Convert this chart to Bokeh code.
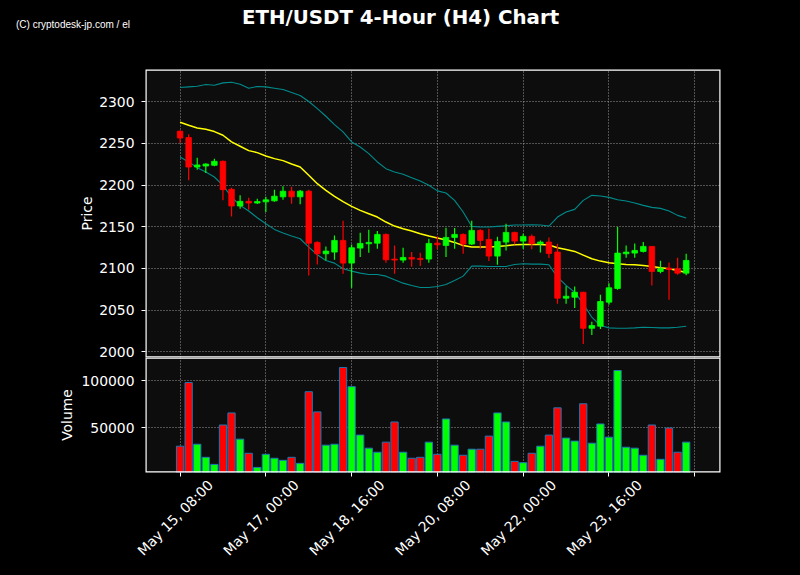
import math
from bokeh.plotting import figure
from bokeh.layouts import column
from bokeh.models import (Range1d, LinearAxis, FixedTicker, Label, BoxAnnotation,
                          NumeralTickFormatter, ColumnDataSource)
from bokeh.embed import file_html
from bokeh.resources import INLINE

# ---------------- data ----------------
idx = list(range(60))
opens = [2264.4, 2256.8, 2221.5, 2222.7, 2223.6, 2228.4, 2194.8, 2174.8, 2180.4, 2178.4,
         2179.8, 2181.0, 2185.8, 2192.6, 2185.8, 2192.6, 2131.2, 2117.6, 2119.6, 2133.6,
         2106.4, 2124.4, 2129.6, 2130.3, 2140.8, 2111.2, 2110.0, 2113.2, 2112.0, 2111.2,
         2130.3, 2127.6, 2137.2, 2140.8, 2129.2, 2145.6, 2134.8, 2114.8, 2131.6, 2143.2,
         2132.8, 2138.4, 2129.6, 2131.6, 2119.6, 2064.4, 2065.5, 2071.5, 2028.3, 2030.8,
         2059.6, 2076.0, 2117.6, 2118.4, 2120.4, 2126.4, 2096.4, 2100.4, 2099.6, 2094.4]
highs = [2265.5, 2260.8, 2232.8, 2226.0, 2231.6, 2229.5, 2196.6, 2187.6, 2184.8, 2183.6,
         2185.8, 2194.4, 2198.6, 2198.0, 2194.0, 2194.4, 2132.5, 2126.4, 2139.6, 2157.2,
         2128.8, 2142.8, 2146.4, 2144.8, 2142.0, 2127.6, 2124.8, 2119.6, 2118.8, 2135.6,
         2138.7, 2148.8, 2148.4, 2142.0, 2157.2, 2147.0, 2147.6, 2138.0, 2153.6, 2144.0,
         2141.6, 2140.8, 2133.6, 2137.2, 2129.6, 2078.7, 2078.3, 2072.0, 2036.0, 2068.4,
         2082.4, 2149.6, 2127.6, 2130.0, 2131.6, 2127.0, 2109.2, 2107.2, 2112.8, 2117.6]
lows = [2250.4, 2205.6, 2218.4, 2214.3, 2222.5, 2181.6, 2162.4, 2171.6, 2170.4, 2177.2,
        2167.5, 2180.0, 2182.2, 2177.6, 2177.0, 2091.6, 2104.8, 2109.6, 2110.4, 2093.6,
        2076.8, 2113.6, 2118.8, 2123.6, 2106.8, 2093.6, 2106.8, 2102.0, 2103.0, 2106.8,
        2123.0, 2113.6, 2123.6, 2117.6, 2128.0, 2123.6, 2108.8, 2104.4, 2121.6, 2128.8,
        2123.6, 2123.0, 2119.0, 2112.4, 2057.6, 2057.6, 2052.7, 2009.6, 2020.4, 2027.6,
        2056.4, 2074.4, 2112.8, 2112.8, 2119.0, 2079.6, 2094.4, 2062.4, 2092.4, 2092.0]
closes = [2256.3, 2221.5, 2224.0, 2225.1, 2228.4, 2194.4, 2174.8, 2180.4, 2178.4, 2180.1,
          2182.2, 2186.6, 2192.6, 2185.8, 2192.6, 2130.3, 2117.6, 2120.8, 2133.6, 2106.4,
          2124.8, 2130.0, 2131.2, 2140.8, 2110.4, 2110.0, 2113.2, 2111.2, 2110.8, 2130.0,
          2128.4, 2137.2, 2140.8, 2129.2, 2145.6, 2133.6, 2114.8, 2132.4, 2143.2, 2132.8,
          2138.4, 2129.6, 2131.6, 2118.0, 2064.4, 2066.7, 2071.5, 2028.3, 2031.6, 2060.4,
          2076.8, 2118.4, 2119.6, 2121.6, 2126.4, 2096.4, 2099.6, 2098.8, 2094.4, 2109.6]
volumes = [30400, 97900, 32500, 18600, 11100, 52900, 65700, 37900, 22900, 7900,
           21800, 17600, 15400, 18600, 12200, 88200, 66800, 31500, 32500, 113900,
           93600, 42200, 28300, 24000, 34700, 56100, 24000, 17600, 18600, 34700,
           21800, 59300, 31500, 20800, 27200, 27200, 41100, 65700, 56100, 14300,
           12900, 22900, 30400, 42200, 71100, 39000, 35800, 75400, 33600, 54000,
           40000, 110700, 29300, 28300, 20800, 52900, 16500, 49700, 24000, 34700]
sma = [2275.2, 2271.6, 2268.4, 2266.8, 2264.0, 2259.6, 2251.6, 2246.4, 2241.2, 2238.8,
       2234.8, 2231.6, 2229.2, 2225.2, 2221.6, 2211.6, 2201.6, 2193.6, 2186.4, 2180.0,
       2174.4, 2169.6, 2165.6, 2161.6, 2155.6, 2150.8, 2147.6, 2144.8, 2141.6, 2138.8,
       2136.4, 2134.0, 2131.2, 2127.6, 2125.6, 2125.6, 2125.6, 2126.4, 2127.2, 2128.4,
       2128.8, 2128.8, 2128.8, 2128.0, 2124.8, 2122.8, 2120.4, 2116.0, 2111.6, 2108.8,
       2106.8, 2105.6, 2104.8, 2104.4, 2103.6, 2102.4, 2100.8, 2099.6, 2097.6, 2095.2]
bb_upper = [2316.8, 2317.6, 2318.4, 2320.4, 2319.6, 2322.4, 2323.2, 2320.8, 2316.0, 2318.0,
            2317.6, 2316.0, 2314.4, 2310.8, 2307.2, 2300.0, 2291.6, 2282.4, 2272.4, 2263.6,
            2251.6, 2245.6, 2237.6, 2227.6, 2219.6, 2215.6, 2212.8, 2208.8, 2204.8, 2199.6,
            2193.0, 2190.4, 2181.6, 2167.6, 2150.4, 2149.6, 2149.6, 2150.4, 2151.2, 2152.0,
            2152.0, 2152.4, 2152.0, 2150.8, 2161.6, 2167.6, 2170.8, 2181.6, 2187.6, 2186.8,
            2185.2, 2182.4, 2180.8, 2178.4, 2175.6, 2173.2, 2172.0, 2168.8, 2163.6, 2160.4]
bb_lower = [2233.6, 2227.6, 2220.8, 2215.6, 2209.6, 2199.6, 2185.6, 2175.6, 2168.8, 2160.8,
            2153.6, 2146.8, 2142.4, 2138.8, 2135.6, 2125.6, 2116.4, 2109.6, 2106.4, 2099.6,
            2096.8, 2094.4, 2092.8, 2092.8, 2090.8, 2086.4, 2082.4, 2079.6, 2077.2, 2077.2,
            2078.4, 2080.8, 2085.6, 2090.8, 2102.8, 2102.8, 2102.4, 2102.4, 2102.4, 2104.8,
            2105.6, 2105.2, 2105.2, 2104.4, 2089.6, 2079.6, 2071.6, 2057.6, 2041.6, 2031.6,
            2028.8, 2028.4, 2028.4, 2028.8, 2029.6, 2029.2, 2028.8, 2028.8, 2029.6, 2030.8]

x_tick_pos = [0, 10, 20, 30, 40, 50, 60]
x_tick_labels = ["May 15, 08:00", "May 17, 00:00", "May 18, 16:00",
                 "May 20, 08:00", "May 22, 00:00", "May 23, 16:00"]
price_ticks = [2000, 2050, 2100, 2150, 2200, 2250, 2300]
vol_ticks = [50000, 100000]
title_text = "ETH/USDT 4-Hour (H4) Chart"
credit_text = "(C) cryptodesk-jp.com / el"

# ---------------- styling ----------------
UP, DOWN = "#00ff00", "#ff0000"
PLOT_BG = "#0d0d0d"
GRID_COLOR = "#b0b0b0"
FONT = "DejaVu Sans"
TICK_FS = "13.9px"
X0, X1 = -4.03, 63.0
LBL_SHIFT = 3.55
W_TOTAL = 800
LEFT, RIGHT = 145, 80
FRAME_W = W_TOTAL - LEFT - RIGHT

colors = [UP if c >= o else DOWN for o, c in zip(opens, closes)]
src = ColumnDataSource(dict(
    x=idx, open=opens, high=highs, low=lows, close=closes,
    top=[max(o, c) for o, c in zip(opens, closes)],
    bot=[min(o, c) for o, c in zip(opens, closes)],
    vol=volumes, color=colors, sma=sma, up=bb_upper, lo=bb_lower))


def style_common(fig, label_standoff):
    fig.background_fill_color = PLOT_BG
    fig.border_fill_color = None
    fig.outline_line_color = None
    for ax in fig.yaxis:
        ax.axis_line_color = None
        ax.major_tick_line_color = "white"
        ax.major_tick_out = 4
        ax.major_tick_in = 0
        ax.minor_tick_line_color = None
        ax.major_label_text_color = "white"
        ax.major_label_text_font = FONT
        ax.major_label_text_font_size = TICK_FS
        ax.major_label_standoff = 7
        ax.axis_label_text_color = "white"
        ax.axis_label_text_font = FONT
        ax.axis_label_text_font_size = "13.9px"
        ax.axis_label_text_font_style = "normal"
        ax.axis_label_standoff = label_standoff
    fig.xgrid.ticker = FixedTicker(ticks=x_tick_pos)
    for g in list(fig.xgrid) + list(fig.ygrid):
        g.grid_line_color = GRID_COLOR
        g.grid_line_dash = "1 2"
        g.grid_line_alpha = 0.85
        g.grid_line_width = 1
    fig.add_layout(BoxAnnotation(fill_color=None, line_color="white", line_width=2.4,
                                 line_alpha=1.0))


# ---------------- header (title + credit) ----------------
h = figure(width=W_TOTAL, height=69, min_border=0, x_range=Range1d(0, W_TOTAL),
           y_range=Range1d(0, 69), x_axis_location=None, y_axis_location=None,
           output_backend="svg", toolbar_location=None)
h.frame_align = False
h.background_fill_color = "black"
h.border_fill_color = "black"
h.outline_line_color = None
h.grid.visible = False
h.add_layout(Label(x=W_TOTAL / 2, y=52.3, text=title_text, text_align="center",
                   text_baseline="alphabetic", text_font=FONT, text_font_style="bold",
                   text_font_size="19.8px", text_color="white"))
h.add_layout(Label(x=15.5, y=45.5, text=credit_text, text_align="left",
                   text_baseline="alphabetic", text_font="Liberation Sans",
                   text_font_size="10px", text_color="white"))

# ---------------- price panel ----------------
p = figure(frame_width=FRAME_W, frame_height=288, min_border_left=LEFT, min_border_right=RIGHT,
           min_border_top=0, min_border_bottom=8,
           x_range=Range1d(X0, X1), y_range=Range1d(1993.3, 2338.4),
           x_axis_location=None, output_backend="svg", toolbar_location=None)
p.yaxis.ticker = FixedTicker(ticks=price_ticks)
p.yaxis.axis_label = "Price"
style_common(p, 1)
p.border_fill_color = "black"

p.line("x", "up", source=src, line_color="#008b8b", line_width=1.1)
p.line("x", "lo", source=src, line_color="#008b8b", line_width=1.1)
p.line("x", "sma", source=src, line_color="#ffff00", line_width=1.5)
p.segment(x0="x", y0="low", x1="x", y1="high", source=src, line_color="color", line_width=1.2)
p.vbar(x="x", top="top", bottom="bot", width=0.65, source=src,
       fill_color="color", line_color="color", line_width=0.8)

# ---------------- volume panel ----------------
v = figure(frame_width=FRAME_W, frame_height=115, min_border_left=LEFT, min_border_right=RIGHT,
           min_border_top=0, min_border_bottom=103,
           x_range=Range1d(X0, X1), y_range=Range1d(2500, 124500),
           x_axis_location=None, output_backend="svg", toolbar_location=None)
v.yaxis.ticker = FixedTicker(ticks=vol_ticks)
v.yaxis.formatter = NumeralTickFormatter(format="0")
v.yaxis.axis_label = "Volume"
style_common(v, 3)
v.styles = {"margin-top": "-8px"}

v.vbar(x="x", top="vol", bottom=0, width=0.85, source=src,
       fill_color="color", line_color="#1f77b4", line_width=1)

tick_axis = LinearAxis(ticker=FixedTicker(ticks=x_tick_pos),
                       major_label_overrides={t: "" for t in x_tick_pos},
                       major_label_standoff=0, major_label_text_font_size="1px",
                       major_tick_out=4, major_tick_in=0, major_tick_line_color="white",
                       minor_tick_line_color=None, axis_line_color=None)
v.add_layout(tick_axis, "below")

v.extra_x_ranges = {"lbl": Range1d(X0 - LBL_SHIFT, X1 - LBL_SHIFT)}
lbl_axis = LinearAxis(x_range_name="lbl", ticker=FixedTicker(ticks=x_tick_pos[:6]),
                      major_label_overrides={t: s for t, s in zip(x_tick_pos, x_tick_labels)},
                      major_label_orientation=math.pi / 4, major_label_standoff=0,
                      major_label_text_color="white", major_label_text_font=FONT,
                      major_label_text_font_size=TICK_FS,
                      major_tick_line_color=None, minor_tick_line_color=None,
                      axis_line_color=None)
v.add_layout(lbl_axis, "below")

layout = column(h, p, v, spacing=0)
layout.styles = {"background-color": "black"}
html = file_html(layout, INLINE)
html = html.replace("<body>", '<body style="background-color:#000000;">', 1)
open("out.html", "w").write(html)
